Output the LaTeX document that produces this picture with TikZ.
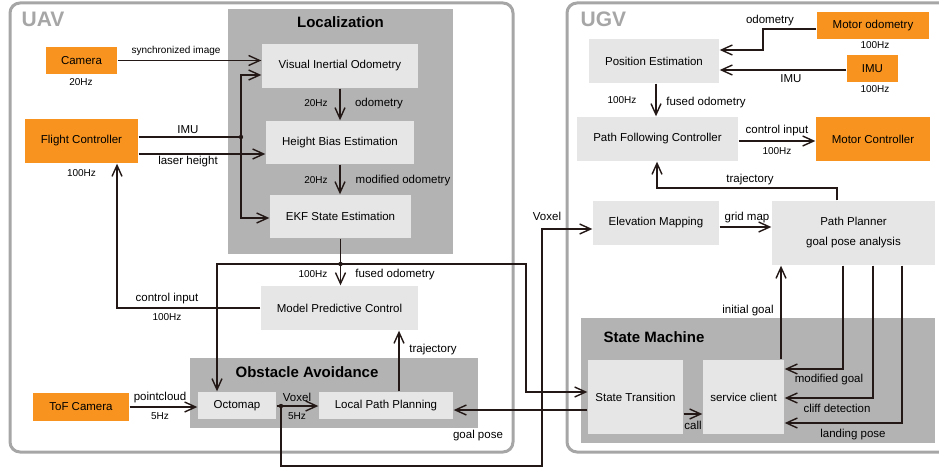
\documentclass[tikz,border=0pt]{standalone}
\usepackage{fontspec}
\setmainfont{Liberation Sans}
\usetikzlibrary{arrows.meta}
\definecolor{orng}{HTML}{F7931E}
\definecolor{lbox}{HTML}{E6E6E6}
\definecolor{grp}{HTML}{B3B3B3}
\definecolor{frm}{HTML}{A6A6A6}
\definecolor{lnc}{HTML}{231815}
\newcommand\fmain{\fontsize{11.5}{20}\selectfont}
\newcommand\fsmall{\fontsize{10}{12}\selectfont}
\newcommand\ftitle{\fontsize{15}{18}\selectfont\bfseries}
\newcommand\fbig{\fontsize{21}{24}\selectfont\bfseries}
\begin{document}
\begin{tikzpicture}[x=1pt,y=-1pt, line width=1.4pt,
  box/.style={fill=lbox, inner sep=0pt, font=\fmain, text=black, align=center},
  obox/.style={box, fill=orng},
  frame/.style={draw=frm, line width=3pt, rounded corners=10pt},
  lbl/.style={font=\fmain, anchor=base, inner sep=0pt, text=black},
  hz/.style={font=\fsmall, anchor=base, inner sep=0pt, text=black},
  ttl/.style={font=\ftitle, anchor=base, inner sep=0pt, text=black},
  big/.style={font=\fbig, anchor=base west, inner sep=0pt, text=frm},
  arr/.style={draw=lnc, -{Straight Barb[length=11pt,width=10pt]}},
  ln/.style={draw=lnc},
]
\path[use as bounding box] (0,0) rectangle (939,468);

% frames
\draw[frame] (10,3) rectangle (513,452);
\draw[frame] (567,3) rectangle (965,452);
\node[big] (uav) at (21,27) {UAV};
\node[big] (ugv) at (580,27) {UGV};

% groups
\fill[grp] (228,9) rectangle (453,254);
\fill[grp] (190,358) rectangle (478,428);
\fill[grp] (581,318) rectangle (935,443);
\node[ttl] (tloc) at (340.5,27.5) {Localization};
\node[ttl] (tobs) at (307,377) {Obstacle Avoidance};
\node[ttl] (tsm) at (654,342) {State Machine};

% UAV boxes
\node[box, minimum width=156pt, minimum height=44pt] (vio) at (340,66) {Visual Inertial Odometry};
\node[box, minimum width=148pt, minimum height=43pt] (hbe) at (340,142.5) {Height Bias Estimation};
\node[box, minimum width=141pt, minimum height=43pt] (ekf) at (340.5,216.5) {EKF State Estimation};
\node[obox, minimum width=71pt, minimum height=27pt] (cam) at (81.5,60.5) {Camera};
\node[obox, minimum width=113pt, minimum height=44pt] (fc) at (81.5,141) {Flight Controller};
\node[box, minimum width=157pt, minimum height=44pt] (mpc) at (339.5,308) {Model Predictive Control};
\node[box, minimum width=78pt, minimum height=27pt] (oct) at (237,405.5) {Octomap};
\node[box, minimum width=134pt, minimum height=27pt] (lpp) at (386,405.5) {Local Path Planning};
\node[obox, minimum width=96pt, minimum height=28pt] (tof) at (81,407) {ToF Camera};

% UGV boxes
\node[obox, minimum width=112pt, minimum height=27pt] (mo) at (873,25.5) {Motor odometry};
\node[obox, minimum width=51pt, minimum height=27pt] (imu) at (872.5,68.5) {IMU};
\node[box, minimum width=130pt, minimum height=44pt] (pe) at (654,61) {Position Estimation};
\node[box, minimum width=161pt, minimum height=44pt] (pfc) at (657.5,139) {Path Following Controller};
\node[obox, minimum width=114pt, minimum height=44pt] (mc) at (873,139) {Motor Controller};
\node[box, minimum width=126pt, minimum height=44pt] (em) at (656,223) {Elevation Mapping};
\node[box, minimum width=163pt, minimum height=64pt] (pp) at (853.5,233) {Path Planner\\goal pose analysis};
\node[box, minimum width=95pt, minimum height=74pt] (st) at (635.5,397) {State Transition};
\node[box, minimum width=81pt, minimum height=74pt] (sc) at (743.5,397) {service client};

% UAV connectors
\draw[arr] (cam.east) -- (vio.west |- cam.east);
\coordinate (j1) at (241,137);
\draw[ln] (fc.east |- j1) -- (j1);
\draw[arr] (j1) |- (vio.west |- 0,75);
\draw[arr] (j1) |- (ekf.west |- 0,218);
\fill[lnc] (j1) circle[radius=2.2pt];
\draw[arr] (fc.east |- 0,154) -- (hbe.west |- 0,154);
\draw[arr] (vio.south) -- (hbe.north);
\draw[arr] (hbe.south) -- (hbe.south |- ekf.north);
\draw[arr] (ekf.south) -- (ekf.south |- mpc.north);
\coordinate (j2) at (ekf.south |- 0,264);
\fill[lnc] (j2) circle[radius=2.2pt];
\draw[arr] (j2) -- (217,264) -- (oct.north -| 217,0);
\draw[arr] (j2) -- (526,264) |- (st.west |- 0,392);
\draw[arr] (mpc.west) -| (fc.south -| 117,0);
\draw[arr] (lpp.north -| 399,0) -- (mpc.south -| 399,0);
\draw[arr] (tof.east |- 0,407) -- (oct.west |- 0,407);
\draw[arr] (oct.east |- 0,406) -- (lpp.west |- 0,406);
\coordinate (j3) at (281,406);
\fill[lnc] (j3) circle[radius=2.2pt];
\draw[arr] (j3) -- (281,466) -| (542,229) -- (em.west |- 0,229);
\draw[arr] (st.west |- 0,410) -- (lpp.east |- 0,410);

% UGV connectors
\draw[arr] (mo.west |- 0,29) -- (763,29) |- (pe.east |- 0,50);
\draw[arr] (imu.west |- 0,70) -- (pe.east |- 0,70);
\draw[arr] (pe.south -| 656,0) -- (pfc.north -| 656,0);
\draw[arr] (pfc.east |- 0,141) -- (mc.west |- 0,141);
\draw[arr] (pp.north -| 837,0) |- (657,188) -- (pfc.south -| 657,0);
\draw[arr] (em.east |- 0,227) -- (pp.west |- 0,227);
\draw[arr] (sc.north -| 781,0) -- (pp.south -| 781,0);
\draw[arr] (pp.south -| 843,0) |- (sc.east |- 0,369);
\draw[arr] (pp.south -| 873,0) |- (sc.east |- 0,398);
\draw[arr] (pp.south -| 902,0) |- (sc.east |- 0,423);
\draw[arr] (st.east |- 0,414) -- (sc.west |- 0,414);

% UAV labels
\node[hz] (t1) at (176,54) {synchronized image};
\node[hz] (t2) at (81,86) {20Hz};
\node[lbl] (t3) at (188,133) {IMU};
\node[lbl] (t4) at (188,164.5) {laser height};
\node[hz] (t5) at (81.5,176) {100Hz};
\node[hz] (t6) at (316,107) {20Hz};
\node[lbl] (t7) at (379,107) {odometry};
\node[hz] (t8) at (316,183) {20Hz};
\node[lbl] (t9) at (403,183) {modified odometry};
\node[hz] (t10) at (313,277) {100Hz};
\node[lbl] (t11) at (395,277.5) {fused odometry};
\node[lbl] (t12) at (167,301.5) {control input};
\node[hz] (t13) at (167,320) {100Hz};
\node[lbl] (t14) at (433,352.5) {trajectory};
\node[lbl] (t15) at (160,400.5) {pointcloud};
\node[hz] (t16) at (160,419) {5Hz};
\node[lbl] (t17) at (297,401) {Voxel};
\node[hz] (t18) at (297,419) {5Hz};
\node[lbl] (t19) at (478,438) {goal pose};
\node[lbl] (t20) at (547,220) {Voxel};

% UGV labels
\node[lbl] (u1) at (770,23.5) {odometry};
\node[hz] (u2) at (875,49) {100Hz};
\node[lbl] (u3) at (791,83) {IMU};
\node[hz] (u4) at (875,93) {100Hz};
\node[hz] (u5) at (622,104) {100Hz};
\node[lbl] (u6) at (706,105.5) {fused odometry};
\node[lbl] (u7) at (777,133.5) {control input};
\node[hz] (u8) at (777,154) {100Hz};
\node[lbl] (u9) at (750,182.5) {trajectory};
\node[lbl] (u10) at (747,220.5) {grid map};
\node[lbl] (u11) at (748,313.5) {initial goal};
\node[lbl] (u12) at (829,382) {modified goal};
\node[lbl] (u13) at (837,412) {cliff detection};
\node[lbl] (u14) at (853,437) {landing pose};
\node[lbl] (u15) at (693,429) {call};
\end{tikzpicture}
\end{document}
